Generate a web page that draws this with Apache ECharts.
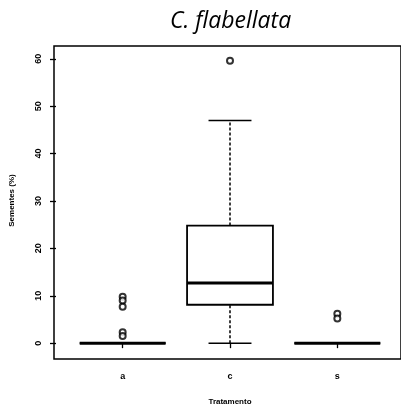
<!DOCTYPE html>
<html>
<head>
<meta charset="utf-8">
<script src="https://cdn.jsdelivr.net/npm/echarts@6/dist/echarts.min.js"></script>
<style>
  html, body { margin: 0; padding: 0; background: #fff; }
  #chart { width: 401px; height: 411px; }
</style>
</head>
<body>
<div id="chart"></div>
<script>
// treatments
var categories = ['a', 'c', 's'];
// [min, Q1, median, Q3, max] per treatment
var boxStats = [
  [0, 0, 0, 0, 0],
  [0, 8.1, 12.7, 24.8, 47],
  [0, 0, 0, 0, 0]
];
// outliers per treatment
var outliersA = [9.8, 9.0, 7.7, 2.3, 1.5];
var outliersC = [59.6];
var outliersS = [6.2, 5.2];
var yTicks = [0, 10, 20, 30, 40, 50, 60];

var chart = echarts.init(document.getElementById('chart'));

var boxData = boxStats.map(function (s, i) {
  return [i].concat(s);
});
var outlierData = [];
[outliersA, outliersC, outliersS].forEach(function (list, i) {
  list.forEach(function (v) { outlierData.push([i, v]); });
});

function renderBox(params, api) {
  var idx = api.value(0);
  var band = api.size([1, 0])[0];
  var half = band * 0.4;
  var staple = band * 0.2;
  var pMin = api.coord([idx, api.value(1)]);
  var pQ1 = api.coord([idx, api.value(2)]);
  var pMed = api.coord([idx, api.value(3)]);
  var pQ3 = api.coord([idx, api.value(4)]);
  var pMax = api.coord([idx, api.value(5)]);
  var x = pMed[0];
  var ln = { stroke: '#000', lineWidth: 1.5 };
  return {
    type: 'group',
    children: [
      { type: 'line', shape: { x1: x, y1: pQ3[1], x2: x, y2: pMax[1] },
        style: { stroke: '#000', lineWidth: 1.5, lineDash: [3, 2] } },
      { type: 'line', shape: { x1: x, y1: pMin[1], x2: x, y2: pQ1[1] },
        style: { stroke: '#000', lineWidth: 1.5, lineDash: [3, 2] } },
      { type: 'line', shape: { x1: x - staple, y1: pMax[1], x2: x + staple, y2: pMax[1] }, style: ln },
      { type: 'line', shape: { x1: x - staple, y1: pMin[1], x2: x + staple, y2: pMin[1] }, style: ln },
      { type: 'rect', shape: { x: x - half, y: pQ3[1], width: half * 2, height: pQ1[1] - pQ3[1] },
        style: { fill: '#fff', stroke: '#000', lineWidth: 1.8 } },
      { type: 'line', shape: { x1: x - half, y1: pMed[1], x2: x + half, y2: pMed[1] },
        style: { stroke: '#000', lineWidth: 3 } }
    ]
  };
}

var axisFont = { fontFamily: 'Liberation Sans', fontSize: 9, fontWeight: 'bold', color: '#000' };

var option = {
  backgroundColor: '#fff',
  animation: false,
  title: {
    text: 'C. flabellata',
    left: 165,
    top: 5,
    textStyle: { fontFamily: 'Open Sans', fontStyle: 'italic', fontWeight: 'normal', fontSize: 23, color: '#000' }
  },
  grid: [
    { left: 54, top: 46, width: 350, height: 313, show: true, borderColor: '#000', borderWidth: 1.5, backgroundColor: 'transparent' },
    { left: 67, top: 46, width: 324, height: 313 }
  ],
  xAxis: [
    { gridIndex: 0, type: 'value', show: false, min: 0, max: 1 },
    {
      gridIndex: 1, type: 'category', data: categories,
      axisLine: { show: false },
      axisTick: { show: true, alignWithLabel: true, length: 5, lineStyle: { color: '#000', width: 1.3 } },
      axisLabel: Object.assign({ margin: 17 }, axisFont),
      name: 'Tratamento', nameLocation: 'middle', nameGap: 43,
      nameTextStyle: { fontFamily: 'Liberation Sans', fontSize: 8, fontWeight: 'bold', color: '#000' }
    }
  ],
  yAxis: [
    { gridIndex: 0, type: 'value', show: false, min: 0, max: 1 },
    {
      gridIndex: 1, type: 'value', min: -2.5, max: 62.7, offset: 13,
      splitLine: { show: false },
      axisLine: { show: false },
      axisTick: { show: true, length: 6, customValues: yTicks, lineStyle: { color: '#000', width: 1.3 } },
      axisLabel: Object.assign({ rotate: 90, margin: 13, customValues: yTicks }, axisFont),
      name: 'Sementes (%)', nameLocation: 'middle', nameRotate: 90, nameGap: 40,
      nameTextStyle: { fontFamily: 'Liberation Sans', fontSize: 8, fontWeight: 'bold', color: '#000' }
    }
  ],
  series: [
    {
      type: 'custom', xAxisIndex: 1, yAxisIndex: 1,
      renderItem: renderBox,
      encode: { x: 0, y: [1, 2, 3, 4, 5] },
      data: boxData
    },
    {
      type: 'scatter', xAxisIndex: 1, yAxisIndex: 1,
      symbol: 'emptyCircle', symbolSize: 6,
      itemStyle: { color: '#000', borderColor: '#000', borderWidth: 1.5 },
      data: outlierData
    }
  ]
};

chart.setOption(option);
</script>
</body>
</html>
